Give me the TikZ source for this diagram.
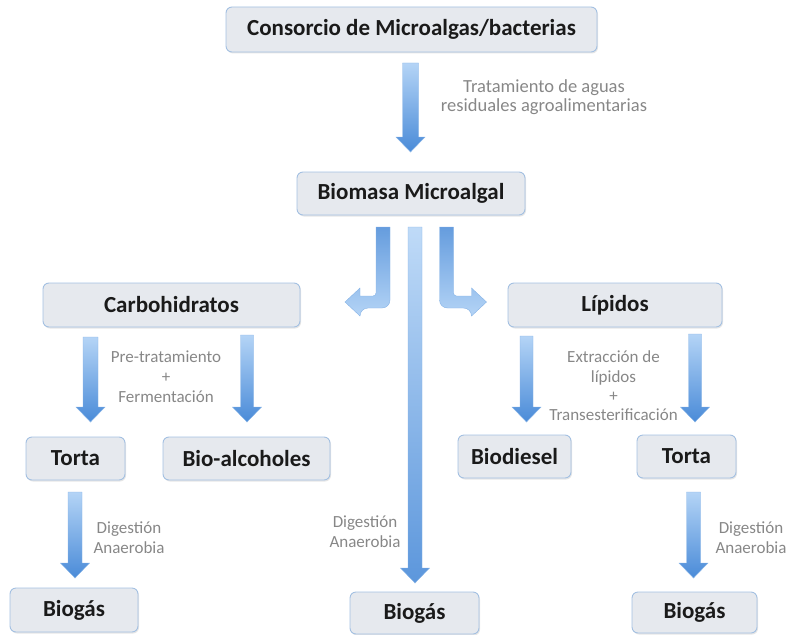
\documentclass[tikz,border=0pt]{standalone}
\usepackage{fontspec}
\setmainfont{Carlito}
\usetikzlibrary{positioning, calc, shadows}
\definecolor{boxfill}{HTML}{E6E9EE}
\definecolor{boxedge}{HTML}{A3C0E2}
\definecolor{arrowlight}{HTML}{B4D4F6}
\definecolor{arrowdark}{HTML}{4A8BD8}
\definecolor{arrowedge}{HTML}{86B3E6}
\definecolor{labelgray}{HTML}{878787}
\definecolor{textdark}{HTML}{1A1A1A}

% straight block arrow pointing down, from #3 to the tip #4
\newcommand{\blockdown}[4][7pt]{%
  \shade[#2] let \p1=(#3), \p2=(#4) in
    (\x1-#1,\y1) -- (\x1+#1,\y1) -- (\x1+#1,\y2+15pt) -- (\x1+14.5pt,\y2+15pt)
    -- (\x1,\y2) -- (\x1-14.5pt,\y2+15pt) -- (\x1-#1,\y2+15pt) -- cycle;}

\begin{document}
\begin{tikzpicture}[
    x=1pt, y=-1pt,
    box/.style={rectangle, rounded corners=6pt, draw=boxedge, line width=0.9pt, fill=boxfill,
      drop shadow={shadow xshift=1pt, shadow yshift=-1.5pt, opacity=0.2},
      text=textdark, font=\fontsize{23}{27}\selectfont\bfseries, inner sep=0pt},
    note/.style={text=labelgray, font=\fontsize{17}{20}\selectfont, align=center, inner sep=0pt},
    blockarrow/.style={top color=arrowlight, bottom color=arrowdark, draw=arrowedge, line width=0.4pt},
    mainarrow/.style={top color=arrowlight!85!white, bottom color=arrowdark!90!white, draw=arrowedge, line width=0.4pt},
    bentarrow/.style={top color=arrowdark!85!white, bottom color=arrowlight, draw=arrowedge, line width=0.4pt}
]
\useasboundingbox (0,0) rectangle (789,634);

% boxes
\node (cons) [box, minimum width=371pt, minimum height=45pt] at (411.5,29.5) {Consorcio de Microalgas/bacterias};
\node (biom) [box, minimum width=228pt, minimum height=43pt] at (411,193.5) {Biomasa Microalgal};
\node (carb) [box, minimum width=257pt, minimum height=44pt] at (171.5,305) {Carbohidratos};
\node (lip) [box, minimum width=214pt, minimum height=44pt] at (615,305) {Lípidos};
\node (tortaL) [box, minimum width=99pt, minimum height=43pt] at (75.5,458.5) {Torta};
\node (alco) [box, minimum width=167pt, minimum height=43pt] at (246.5,458.5) {Bio-alcoholes};
\node (diesel) [box, minimum width=113pt, minimum height=43pt] at (514.5,456.5) {Biodiesel};
\node (tortaR) [box, minimum width=99pt, minimum height=43pt] at (686.5,456.5) {Torta};
\node (gasL) [box, minimum width=128pt, minimum height=44pt] at (74,610) {Biogás};
\node (gasC) [box, minimum width=129pt, minimum height=42pt] at (414.5,613) {Biogás};
\node (gasR) [box, minimum width=125pt, minimum height=41pt] at (694.5,612.5) {Biogás};

% arrow ends
\coordinate (consA) at (410.5,63);   \coordinate (biomA) at (410.5,152);
\coordinate (carbA) at (90.5,337);   \coordinate (tortaLA) at (90.5,422);
\coordinate (carbB) at (247,335);    \coordinate (alcoA) at (247,422);
\coordinate (lipA) at (526.5,336);   \coordinate (dieselA) at (526.5,422);
\coordinate (lipB) at (695,334);     \coordinate (tortaRA) at (695,422);
\coordinate (tortaLB) at (75,492);   \coordinate (gasLA) at (75,578);
\coordinate (biomB) at (415,227);    \coordinate (gasCA) at (415,583);
\coordinate (tortaRB) at (693.5,492); \coordinate (gasRA) at (693.5,578);
\coordinate (bendL) at (383,227);    \coordinate (bendR) at (446.5,227);

\blockdown[8pt]{blockarrow}{consA}{biomA}
\blockdown[7.5pt]{blockarrow}{carbA}{tortaLA}
\blockdown[6.5pt]{blockarrow}{carbB}{alcoA}
\blockdown[6.5pt]{blockarrow}{lipA}{dieselA}
\blockdown[6.5pt]{blockarrow}{lipB}{tortaRA}
\blockdown{blockarrow}{tortaLB}{gasLA}
\blockdown{mainarrow}{biomB}{gasCA}
\blockdown{blockarrow}{tortaRB}{gasRA}

% bent arrows towards Carbohidratos and Lípidos
\begin{scope}[shift={(bendL)}]
  \shade[bentarrow] (-7,0) -- (7,0) [rounded corners=8pt] -- (7,81) -- (-23,81) [sharp corners]
    -- (-23,89) -- (-38,75) -- (-23,61) -- (-23,69) [rounded corners=3pt] -- (-7,69) [sharp corners] -- cycle;
\end{scope}
\begin{scope}[shift={(bendR)}, xscale=-1]
  \shade[bentarrow] (-7,0) -- (7,0) [rounded corners=8pt] -- (7,81) -- (-25,81) [sharp corners]
    -- (-25,89) -- (-40,75) -- (-25,61) -- (-25,69) [rounded corners=3pt] -- (-7,69) [sharp corners] -- cycle;
\end{scope}

% labels
\node (treat) [note, font=\fontsize{18.5}{19}\selectfont] at (544,97.5) {Tratamiento de aguas\\residuales agroalimentarias};
\node (ferm) [note] at (166,377) {Pre-tratamiento\\+\\Fermentación};
\node (trans) [note, font=\fontsize{17}{19.3}\selectfont] at (613.5,386) {Extracción de\\lípidos\\+\\Transesterificación};
\node (digL) [note] at (129,537.5) {Digestión\\Anaerobia};
\node (digC) [note] at (365,532) {Digestión\\Anaerobia};
\node (digR) [note] at (751,537.5) {Digestión\\Anaerobia};

\end{tikzpicture}
\end{document}
